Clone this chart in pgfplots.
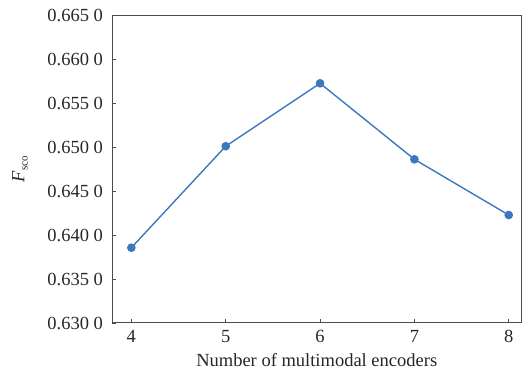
\documentclass[border=0pt]{standalone}
\usepackage{fontspec}
\setmainfont{Liberation Serif}
\usepackage{pgfplots}
\pgfplotsset{compat=1.18}
\definecolor{lineblue}{RGB}{60,120,190}
\begin{document}
\begin{tikzpicture}
\begin{axis}[
  scale only axis,
  width=408.5pt, height=307.5pt,
  xmin=3.8, xmax=8.13,
  ymin=0.630, ymax=0.665,
  xtick={4,5,6,7,8},
  ytick={0.630,0.635,0.640,0.645,0.650,0.655,0.660,0.665},
  yticklabels={0.630 0,0.635 0,0.640 0,0.645 0,0.650 0,0.655 0,0.660 0,0.665 0},
  tick align=inside,
  xtick pos=bottom, ytick pos=left,
  major tick length=4pt,
  tick style={draw=black!70, line width=0.8pt},
  axis line style={draw=black!70, line width=1pt},
  /pgf/number format/assume math mode=true,
  ticklabel style={font=\fontsize{18.5}{20}\selectfont, text=black!85},
  yticklabel style={xshift=-6pt},
  xticklabel style={yshift=-4pt},
  label style={font=\fontsize{18.5}{20}\selectfont, text=black!85},
  xlabel={Number of multimodal encoders},
  xlabel style={at={(axis description cs:0.5,0)}, anchor=base, yshift=-44pt},
  ylabel={\textit{F}\raisebox{-0.4ex}{\fontsize{11}{12}\selectfont sco}},
  ylabel style={at={(axis description cs:-0.2264,0.5)}, anchor=center},
]
\addplot[color=lineblue, line width=1.4pt, mark=*, mark size=3.6pt, mark options={fill=lineblue, draw=lineblue}]
coordinates {(4,0.63857) (5,0.65012) (6,0.65728) (7,0.64863) (8,0.64229)};
\end{axis}
\pgfresetboundingbox
\path[use as bounding box] (current axis.south west) ++(-112.5pt,-51pt) rectangle ++(523pt,374pt);
\end{tikzpicture}
\end{document}
